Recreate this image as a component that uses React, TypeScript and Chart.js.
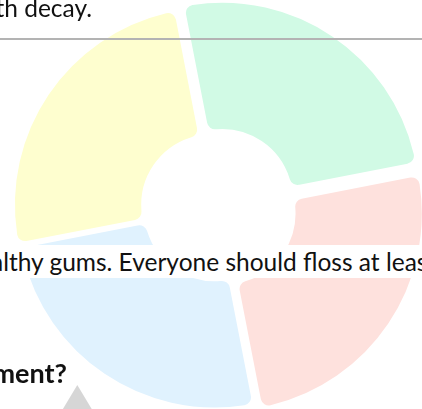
import React, { useEffect, useRef } from "react";
import { Chart, registerables } from "chart.js";

Chart.register(...registerables);

// Chart data (four equal segments of the circular cycle graphic)
const segments = ["Segment 1", "Segment 2", "Segment 3", "Segment 4"];
const shares = [25, 25, 25, 25];
const segmentColors = ["#D1FAE5", "#FEE1DD", "#E0F2FE", "#FEFECF"];
const segmentOffsets = [40, 40, 12, 22];

// Page texts
const topLine = "th decay.";
const middleLine = "althy gums. Everyone should floss at least";
const bottomLine = "ment?";

const FONT = "Lato, 'Open Sans', 'Noto Sans', sans-serif";

export default function App() {
  const canvasRef = useRef<HTMLCanvasElement | null>(null);

  useEffect(() => {
    const canvas = canvasRef.current;
    if (!canvas) return;
    const chart = new Chart(canvas, {
      type: "doughnut",
      data: {
        labels: segments,
        datasets: [
          {
            data: shares,
            backgroundColor: segmentColors,
            borderWidth: 0,
            borderRadius: 8,
            offset: segmentOffsets,
            clip: false as any,
          } as any,
        ],
      },
      options: {
        animation: false,
        responsive: false,
        events: [],
        cutout: 65,
        radius: 197,
        rotation: -11,
        layout: { padding: { left: 11, top: 7, right: 0, bottom: 0 } },
        plugins: {
          legend: { display: false },
          tooltip: { enabled: false },
          title: { display: false },
        },
      } as any,
    });
    return () => chart.destroy();
  }, []);

  return (
    <div
      style={{
        position: "fixed",
        left: 0,
        top: 0,
        width: 422,
        height: 409,
        overflow: "hidden",
        background: "#ffffff",
        fontFamily: FONT,
        color: "#111111",
      }}
    >
      <canvas
        ref={canvasRef}
        width={422}
        height={409}
        style={{ position: "absolute", left: 0, top: 0, width: 422, height: 409 }}
      />
      {/* top line of text */}
      <div
        style={{
          position: "absolute",
          right: 422 - 92,
          top: -7.5,
          whiteSpace: "nowrap",
          fontSize: 24.5,
          lineHeight: "29.4px",
        }}
      >
        {topLine}
      </div>
      {/* horizontal rule */}
      <div
        style={{
          position: "absolute",
          left: 0,
          top: 38,
          width: 422,
          height: 2,
          background: "#b3b3b3",
        }}
      />
      {/* middle line with white background band */}
      <div
        style={{
          position: "absolute",
          left: 0,
          top: 245,
          width: 422,
          height: 33,
          background: "#ffffff",
          overflow: "hidden",
        }}
      >
        <div
          style={{
            position: "absolute",
            left: -9,
            top: 0,
            whiteSpace: "nowrap",
            fontSize: 24.5,
            lineHeight: "33px",
          }}
        >
          {middleLine}
        </div>
      </div>
      {/* bottom bold line */}
      <div
        style={{
          position: "absolute",
          right: 422 - 67,
          top: 357,
          whiteSpace: "nowrap",
          fontSize: 27,
          fontWeight: 700,
          lineHeight: "32.4px",
        }}
      >
        {bottomLine}
      </div>
      {/* grey triangle */}
      <div
        style={{
          position: "absolute",
          left: 77.3 - 36,
          top: 385,
          width: 72,
          height: 60,
          background: "#d6d6d6",
          clipPath: "polygon(50% 0, 100% 100%, 0 100%)",
        }}
      />
    </div>
  );
}
